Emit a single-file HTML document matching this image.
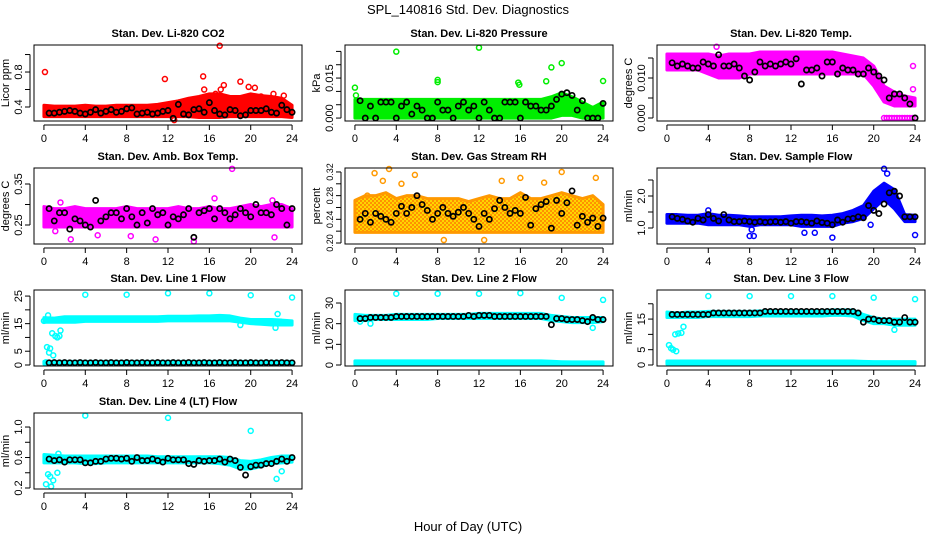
<!DOCTYPE html>
<html><head><meta charset="utf-8"><style>
body{margin:0;background:#fff}
svg{display:block;font-family:"Liberation Sans",sans-serif}
</style></head><body>
<svg id="chart" width="936" height="540" viewBox="0 0 936 540" xmlns="http://www.w3.org/2000/svg">
<defs>
<pattern id="rhpat" width="4" height="4" patternUnits="userSpaceOnUse">
<rect width="4" height="4" fill="#ffd700"/>
<circle cx="1" cy="1" r="1.1" fill="#ff8c00"/>
<circle cx="3" cy="3" r="1.1" fill="#ff8c00"/>
</pattern>
</defs>
<text x="468" y="14" text-anchor="middle" font-size="13">SPL_140816  Std. Dev. Diagnostics</text>
<text x="468" y="531" text-anchor="middle" font-size="13">Hour of Day (UTC)</text>
</svg>
<script>
const bandHours=[0,1,2,3,4,5,6,7,8,9,10,11,12,13,14,15,16,17,18,19,20,21,22,23,24];
const xTicks=[0,4,8,12,16,20,24];
const meanHours=[0.5,1,1.5,2,2.5,3,3.5,4,4.5,5,5.5,6,6.5,7,7.5,8,8.5,9,9.5,10,10.5,11,11.5,12,12.5,13,13.5,14,14.5,15,15.5,16,16.5,17,17.5,18,18.5,19,19.5,20,20.5,21,21.5,22,22.5,23,23.5,24];

const co2Lo=[0.29,0.29,0.29,0.29,0.29,0.29,0.29,0.29,0.29,0.29,0.29,0.29,0.29,0.29,0.29,0.28,0.28,0.28,0.29,0.29,0.29,0.29,0.29,0.29,0.28];
const co2Hi=[0.42,0.41,0.41,0.41,0.42,0.41,0.41,0.42,0.42,0.42,0.42,0.43,0.45,0.47,0.5,0.52,0.55,0.55,0.52,0.52,0.55,0.53,0.52,0.5,0.42];
const co2Mean=[0.33,0.33,0.34,0.35,0.36,0.35,0.33,0.32,0.34,0.37,0.33,0.35,0.37,0.34,0.35,0.38,0.39,0.32,0.33,0.34,0.32,0.33,0.35,0.36,0.27,0.43,0.32,0.31,0.37,0.38,0.34,0.45,0.36,0.32,0.31,0.37,0.36,0.30,0.31,0.36,0.36,0.36,0.38,0.34,0.33,0.42,0.37,0.34];
const co2OutX=[0.1,11.7,15.4,17,17.1,17.4,19,19.8,20.4,15.5,21,13,22.2,23.2,12.6,16.6];
const co2OutY=[0.8,0.72,0.75,1.1,0.6,0.65,0.69,0.63,0.62,0.6,0.52,0.45,0.55,0.53,0.25,0.55];

const presLo=[0,0,0,0,0,0,0,0,0,0,0,0,0,0,0,0,0,0,0,0,0.001,0.001,0,0,0];
const presHi=[0.007,0.007,0.007,0.007,0.007,0.007,0.007,0.007,0.007,0.007,0.007,0.007,0.007,0.007,0.007,0.007,0.007,0.007,0.007,0.008,0.0095,0.008,0.006,0.004,0.006];
const presMean=[0.0065,0,0.0045,0,0.006,0.006,0.006,0,0.0045,0.006,0.0015,0.0045,0.003,0,0,0.006,0.003,0.003,0,0.0045,0.006,0.003,0.0045,0,0.006,0.003,0,0,0.006,0.006,0.006,0,0.006,0.0045,0.0045,0.003,0.003,0.0045,0.007,0.009,0.0095,0.0085,0.003,0.0065,0,0,0,0.0055];
const presOutX=[0,0.1,4,8,8,12,15.8,15.9,18.5,19,20,24];
const presOutY=[0.0114,0.0085,0.0249,0.0143,0.0135,0.0264,0.0133,0.0125,0.0138,0.019,0.0206,0.0139];

const tempLo=[0.012,0.012,0.012,0.012,0.011,0.010,0.010,0.010,0.011,0.011,0.011,0.011,0.011,0.011,0.011,0.011,0.011,0.011,0.011,0.011,0.008,0.004,0.003,0.003,0.003];
const tempHi=[0.016,0.016,0.016,0.016,0.016,0.0155,0.016,0.016,0.016,0.0165,0.0165,0.0165,0.0165,0.0165,0.0165,0.0165,0.0165,0.016,0.0155,0.015,0.013,0.008,0.0065,0.0055,0.005];
const tempMean=[0.0138,0.013,0.0135,0.013,0.0125,0.0125,0.014,0.0135,0.013,0.0158,0.013,0.013,0.0135,0.0125,0.0105,0.0095,0.0115,0.014,0.013,0.0135,0.013,0.0135,0.014,0.0135,0.0148,0.0085,0.012,0.012,0.0125,0.0105,0.014,0.014,0.011,0.0125,0.012,0.012,0.011,0.011,0.0125,0.0115,0.0105,0.0095,0.005,0.006,0.006,0.005,0.0035,0];
const tempOutX=[4.8,23.8,23.8,21,21.25,21.5,21.75,22,22.25,22.5,22.75,23,23.25,23.5,23.75,24];
const tempOutY=[0.0178,0.013,0.0072,0,0,0,0,0,0,0,0,0,0,0,0,0];

const ambLo=[0.245,0.245,0.245,0.245,0.245,0.245,0.245,0.245,0.245,0.245,0.245,0.245,0.245,0.245,0.245,0.245,0.245,0.245,0.245,0.245,0.245,0.245,0.245,0.245,0.245];
const ambHi=[0.295,0.29,0.29,0.295,0.29,0.29,0.29,0.29,0.295,0.29,0.29,0.29,0.29,0.295,0.29,0.29,0.295,0.29,0.29,0.295,0.3,0.295,0.3,0.3,0.29];
const ambMean=[0.29,0.26,0.28,0.28,0.24,0.265,0.26,0.25,0.245,0.31,0.26,0.27,0.28,0.28,0.265,0.29,0.27,0.25,0.28,0.255,0.29,0.275,0.28,0.25,0.27,0.265,0.275,0.29,0.22,0.28,0.285,0.29,0.265,0.29,0.28,0.265,0.275,0.29,0.28,0.27,0.30,0.28,0.28,0.275,0.30,0.29,0.25,0.29];
const ambOutX=[2.6,18.2,22.1,22.3,14.5,8.4,10.8,1.6,16.5,5.2,1.1];
const ambOutY=[0.215,0.387,0.31,0.22,0.21,0.223,0.215,0.305,0.315,0.225,0.235];

const rhLo=[0.218,0.218,0.218,0.218,0.218,0.218,0.218,0.218,0.218,0.218,0.218,0.218,0.218,0.218,0.218,0.218,0.218,0.218,0.218,0.218,0.218,0.218,0.218,0.218,0.218];
const rhHi=[0.272,0.28,0.28,0.285,0.275,0.28,0.28,0.275,0.275,0.275,0.275,0.27,0.275,0.28,0.275,0.275,0.285,0.275,0.275,0.28,0.285,0.28,0.275,0.28,0.265];
const rhMean=[0.24,0.25,0.235,0.25,0.245,0.24,0.235,0.25,0.262,0.25,0.26,0.28,0.265,0.255,0.24,0.25,0.26,0.25,0.245,0.252,0.26,0.25,0.24,0.228,0.25,0.24,0.258,0.272,0.26,0.25,0.255,0.25,0.277,0.23,0.258,0.265,0.27,0.225,0.272,0.25,0.268,0.288,0.23,0.245,0.235,0.242,0.228,0.242];
const rhOutX=[3.3,1.9,5.8,23.3,20,14.2,2.7,4.5,16,18.3,12.5,1.2,8.6];
const rhOutY=[0.325,0.318,0.315,0.31,0.32,0.305,0.305,0.3,0.31,0.302,0.205,0.28,0.205];

const flowLo=[1.15,1.15,1.15,1.15,1.1,1.1,1.1,1.1,1.05,1.1,1.1,1.1,1.1,1.05,1.05,1.05,1.05,1.15,1.2,1.3,1.6,1.9,1.6,1.2,1.2];
const flowHi=[1.42,1.42,1.4,1.4,1.45,1.4,1.4,1.38,1.35,1.35,1.35,1.35,1.38,1.4,1.4,1.38,1.4,1.45,1.55,1.7,2.15,2.4,2.2,1.42,1.4];
const flowMean=[1.35,1.3,1.27,1.22,1.18,1.3,1.25,1.42,1.3,1.22,1.42,1.25,1.2,1.2,1.22,1.2,1.18,1.2,1.18,1.19,1.2,1.18,1.2,1.15,1.2,1.2,1.18,1.15,1.22,1.17,1.15,1.1,1.25,1.18,1.28,1.3,1.35,1.32,1.7,1.55,1.45,1.75,2.1,2.15,2.0,1.35,1.35,1.35];
const flowOutX=[21,21.3,8,8.4,16,24,13.3,14.3,19.7,8.2,4];
const flowOutY=[2.85,2.7,0.75,0.75,0.7,0.78,0.85,0.85,1.1,0.95,1.55];

const l1Lo=[15.5,15.5,15.5,15.5,15.8,15.8,15.8,15.8,15.8,15.8,15.8,15.8,16,16,16,16,16,16,16,15.5,15,14.8,14.5,14.5,14.5];
const l1Hi=[17.2,17,17.5,17.5,17.5,17.5,17.5,17.5,17.5,17.5,17.5,17.5,17.7,17.7,17.7,17.8,17.8,18,17.8,17,16.5,16.5,16.5,16.3,16];
const l1Lo2=[0.3,0.3,0.3,0.3,0.3,0.3,0.3,0.3,0.3,0.3,0.3,0.3,0.3,0.3,0.3,0.3,0.3,0.3,0.3,0.3,0.3,0.3,0.3,0.3,0.3];
const l1Hi2=[1.3,1.3,1.3,1.3,1.3,1.3,1.3,1.3,1.3,1.3,1.3,1.3,1.3,1.3,1.3,1.3,1.3,1.3,1.3,1.3,1.3,1.3,1.3,1.3,1.3];
const l1Mean=[0.8,0.9,0.8,0.9,0.8,0.8,0.9,0.8,0.8,0.9,0.8,0.8,0.9,0.8,0.8,0.9,0.8,0.8,0.9,0.8,0.8,0.9,0.8,0.8,0.9,0.8,0.8,0.9,0.8,0.8,0.9,0.8,0.8,0.9,0.8,0.8,0.9,0.8,0.8,0.9,0.8,0.8,0.9,0.8,0.8,0.9,0.8,0.8];
const l1OutX=[4,8,12,16,20,24,0,0.2,0.3,0.5,0.6,0.9,0.8,1.1,1.3,1.5,1.6,0.4,19,22.4,22.6];
const l1OutY=[25.5,25.5,26,26,25.3,24.5,16,1,6.5,4.5,6,3.5,11.5,10.5,10,10.5,12.5,18,14.5,13.5,18.5];

const l2Lo=[21.5,21.5,22,22,22,22,22,22,22.5,22.5,22.5,22.5,22.5,22.5,22.5,22.5,22.5,22.5,22.5,21.5,21,20.5,20.5,20.5,21];
const l2Hi=[24.5,24,24,24,24.5,24.5,24.5,24.5,24.5,24.5,24.5,24.5,25,25,25,25,25,25,25,24,23.5,23,23,23,23];
const l2Lo2=[0.2,0.2,0.2,0.2,0.2,0.2,0.2,0.2,0.2,0.2,0.2,0.2,0.2,0.2,0.2,0.2,0.2,0.2,0.2,0.2,0.2,0.2,0.2,0.2,0.2];
const l2Hi2=[2,2,2,2,2,2,2,2,2,2,2,2,2,2,2,2,2,2,2,1.8,1.6,1.5,1.5,1.5,1.5];
const l2Mean=[22.5,22.5,23,23,23,23,23,23.5,23.5,23.5,23.5,23.5,23.5,23.5,23.5,23.5,23.5,23.5,23.5,23.5,23.5,24,23.5,24,24,24,23.5,23.5,23.5,23.5,23.5,23.5,23.5,23.5,23.5,23.5,23.5,19.5,22.5,22.5,22,22,22,21.5,21,23,22,22];
const l2OutX=[4,8,12,16,20,24,1.5,23,0.5];
const l2OutY=[34.5,34.5,34.5,34.8,32.5,31.5,20,18,21];

const l3Lo=[15.5,15.5,15.5,15.5,15.8,15.8,15.8,15.8,15.8,16,16,16,16,16,16,16,16.2,16.2,16,14.5,13.5,13.5,13,13,13];
const l3Hi=[17.3,17,17.3,17.3,17.5,17.5,17.5,17.5,17.5,17.7,17.7,17.7,17.8,17.8,17.8,17.8,18,18,18,16.5,15.5,15,15,15,15];
const l3Lo2=[0.3,0.3,0.3,0.3,0.3,0.3,0.3,0.3,0.3,0.3,0.3,0.3,0.3,0.3,0.3,0.3,0.3,0.3,0.3,0.3,0.3,0.3,0.3,0.3,0.3];
const l3Hi2=[1.3,1.3,1.3,1.3,1.3,1.3,1.3,1.3,1.3,1.3,1.3,1.3,1.3,1.3,1.3,1.3,1.3,1.3,1.3,1.2,1.1,1.1,1.1,1.1,1.1];
const l3Mean=[16.5,16.5,16.5,16.5,16.5,16.5,16.5,16.5,17,17,17,17,17,17,17,17,17,17,17.5,17.5,17.5,17.5,17.5,17.5,17.5,17.5,17.5,17.5,17.5,17.5,17.5,17.5,17.5,17.5,17.5,17.5,17,14,15,15,14.5,14.5,14.5,14,14,15.5,14,14];
const l3OutX=[4,8,12,16,20,24,0.2,0.4,0.6,0.9,0.8,1.1,1.4,1.6,22];
const l3OutY=[22.5,22.5,22.5,22.5,22,21.5,6.5,5.5,5,4.5,10,10.3,10.5,12.5,11.5];

const l4Lo=[0.53,0.53,0.53,0.53,0.52,0.52,0.53,0.53,0.53,0.53,0.53,0.53,0.53,0.53,0.53,0.53,0.53,0.52,0.5,0.45,0.45,0.48,0.52,0.53,0.54];
const l4Hi=[0.64,0.63,0.62,0.62,0.62,0.62,0.62,0.62,0.62,0.62,0.62,0.61,0.61,0.61,0.61,0.61,0.61,0.61,0.6,0.56,0.55,0.57,0.6,0.62,0.62];
const l4Mean=[0.58,0.56,0.57,0.54,0.57,0.57,0.57,0.53,0.53,0.55,0.55,0.58,0.59,0.59,0.58,0.59,0.55,0.6,0.56,0.56,0.58,0.56,0.54,0.59,0.57,0.57,0.57,0.52,0.51,0.56,0.55,0.56,0.56,0.58,0.54,0.58,0.56,0.47,0.37,0.48,0.5,0.5,0.52,0.52,0.55,0.58,0.55,0.6];
const l4OutX=[4,12,20,0.2,0.7,0.4,0.9,1.3,1.4,22.5,23,0.6];
const l4OutY=[1.15,1.12,0.95,0.25,0.22,0.38,0.3,0.4,0.65,0.32,0.42,0.35];

const panels=[
 {id:'co2',title:'Stan. Dev. Li-820 CO2',yt:'Licor ppm',col:0,row:0,y0:0.24,y1:1.109,ticks:[0.4,0.6,0.8,1.0],labels:['0.4','0.8'],lv:[0.4,0.8],color:'#ff0000',lo:co2Lo,hi:co2Hi,mean:co2Mean,ox:co2OutX,oy:co2OutY},
 {id:'pressure',title:'Stan. Dev. Li-820 Pressure',yt:'kPa',col:1,row:0,y0:-0.0011,y1:0.0274,ticks:[0,0.005,0.01,0.015,0.02,0.025],labels:['0.000','0.015'],lv:[0,0.015],color:'#00ee00',lo:presLo,hi:presHi,mean:presMean,ox:presOutX,oy:presOutY},
 {id:'temp',title:'Stan. Dev. Li-820 Temp.',yt:'degrees C',col:2,row:0,y0:-0.00075,y1:0.01825,ticks:[0,0.005,0.01,0.015],labels:['0.000','0.010'],lv:[0,0.01],color:'#ff00ff',lo:tempLo,hi:tempHi,mean:tempMean,ox:tempOutX,oy:tempOutY},
 {id:'amb-box-temp',title:'Stan. Dev. Amb. Box Temp.',yt:'degrees C',col:0,row:1,y0:0.2037,y1:0.389,ticks:[0.25,0.3,0.35],labels:['0.25','0.35'],lv:[0.25,0.35],color:'#ff00ff',lo:ambLo,hi:ambHi,mean:ambMean,ox:ambOutX,oy:ambOutY},
 {id:'gas-rh',title:'Stan. Dev. Gas Stream RH',yt:'percent',col:1,row:1,y0:0.1983,y1:0.3267,ticks:[0.2,0.22,0.24,0.26,0.28,0.3,0.32],labels:['0.20','0.24','0.28','0.32'],lv:[0.2,0.24,0.28,0.32],lfs:9,color:'#ff9900',fill2:'url(#rhpat)',lo:rhLo,hi:rhHi,mean:rhMean,ox:rhOutX,oy:rhOutY},
 {id:'sample-flow',title:'Stan. Dev. Sample Flow',yt:'ml/min',col:2,row:1,y0:0.5,y1:2.875,ticks:[1,1.5,2,2.5],labels:['1.0','2.0'],lv:[1,2],color:'#0000ff',lo:flowLo,hi:flowHi,mean:flowMean,ox:flowOutX,oy:flowOutY},
 {id:'line1-flow',title:'Stan. Dev. Line 1 Flow',yt:'ml/min',col:0,row:2,y0:-0.36,y1:27.2,ticks:[0,5,10,15,20,25],labels:['0','5','15','25'],lv:[0,5,15,25],color:'#00ffff',lo:l1Lo,hi:l1Hi,lo2:l1Lo2,hi2:l1Hi2,mean:l1Mean,ox:l1OutX,oy:l1OutY},
 {id:'line2-flow',title:'Stan. Dev. Line 2 Flow',yt:'ml/min',col:1,row:2,y0:-0.48,y1:36.3,ticks:[0,10,20,30],labels:['0','10','20','30'],lv:[0,10,20,30],color:'#00ffff',lo:l2Lo,hi:l2Hi,lo2:l2Lo2,hi2:l2Hi2,mean:l2Mean,ox:l2OutX,oy:l2OutY},
 {id:'line3-flow',title:'Stan. Dev. Line 3 Flow',yt:'ml/min',col:2,row:2,y0:-0.33,y1:24.5,ticks:[0,5,10,15,20],labels:['0','5','15'],lv:[0,5,15],color:'#00ffff',lo:l3Lo,hi:l3Hi,lo2:l3Lo2,hi2:l3Hi2,mean:l3Mean,ox:l3OutX,oy:l3OutY},
 {id:'line4-flow',title:'Stan. Dev. Line 4 (LT) Flow',yt:'ml/min',col:0,row:3,y0:0.187,y1:1.184,ticks:[0.2,0.4,0.6,0.8,1.0],labels:['0.2','0.6','1.0'],lv:[0.2,0.6,1.0],color:'#00ffff',lo:l4Lo,hi:l4Hi,mean:l4Mean,ox:l4OutX,oy:l4OutY}
];
const colLeft=[34,345,657], rowTop=[45,168,290,413], W=268, H=76;
const NS='http://www.w3.org/2000/svg';
const svg=document.getElementById('chart');
function mk(tag,attrs,parent){const e=document.createElementNS(NS,tag);for(const k in attrs)e.setAttribute(k,attrs[k]);(parent||svg).appendChild(e);return e;}
panels.forEach(p=>{
 const L=colLeft[p.col],T=rowTop[p.row];
 const xs=v=>L+(v+0.96)/25.92*W;
 const ys=v=>T+H-(v-p.y0)/(p.y1-p.y0)*H;
 const g=mk('g',{});
 
 
 const band=(lo,hi,nm)=>{
  let pts=bandHours.map((h,i)=>xs(h)+','+ys(hi[i]));
  for(let i=bandHours.length-1;i>=0;i--)pts.push(xs(bandHours[i])+','+ys(lo[i]));
  const b=mk('polygon',{points:pts.join(' '),fill:p.fill2||p.color,stroke:p.color,'stroke-width':3,'stroke-linejoin':'round'},g);
  
  
 };
 band(p.lo,p.hi,'scatter-band');
 if(p.lo2)band(p.lo2,p.hi2,'scatter-band-low');
 p.ox.forEach((x,i)=>{
  const c=mk('circle',{cx:xs(x),cy:ys(p.oy[i]),r:2.5,fill:'none',stroke:p.color,'stroke-width':1.5},g);
  
  
 });
 p.mean.forEach((v,i)=>{
  const c=mk('circle',{cx:xs(meanHours[i]),cy:ys(v),r:2.6,fill:'none',stroke:'#000','stroke-width':1.7},g);
  
  
 });
 const box=mk('rect',{x:L,y:T,width:W,height:H,fill:'none',stroke:'#000','stroke-width':1},g);
 
 
 const ax=mk('line',{x1:xs(0),x2:xs(24),y1:T+H+4,y2:T+H+4,stroke:'#000'},g);
 
 
 xTicks.forEach(t=>{
  mk('line',{x1:xs(t),x2:xs(t),y1:T+H+4,y2:T+H+9,stroke:'#000'},g);
  const tx=mk('text',{x:xs(t),y:T+H+21,'text-anchor':'middle','font-size':11},g);
  tx.textContent=t;
  
  
 });
 const ay=mk('line',{x1:L-4,x2:L-4,y1:ys(p.ticks[0]),y2:ys(p.ticks[p.ticks.length-1]),stroke:'#000'},g);
 
 
 p.ticks.forEach(t=>mk('line',{x1:L-9,x2:L-4,y1:ys(t),y2:ys(t),stroke:'#000'},g));
 p.labels.forEach((lb,i)=>{
  const yy=ys(p.lv[i]);
  const tx=mk('text',{x:L-12,y:yy,'text-anchor':'middle','font-size':p.lfs||11,transform:`rotate(-90 ${L-12} ${yy})`},g);
  tx.textContent=lb;
  
  
 });
 const yt=mk('text',{x:L-25,y:T+H/2,'text-anchor':'middle','font-size':11,transform:`rotate(-90 ${L-25} ${T+H/2})`},g);
 yt.textContent=p.yt;
 
 
 const ti=mk('text',{x:L+W/2,y:T-8,'text-anchor':'middle','font-size':11,'font-weight':'bold'},g);
 ti.textContent=p.title;
 
 
});
</script>
</body></html>
